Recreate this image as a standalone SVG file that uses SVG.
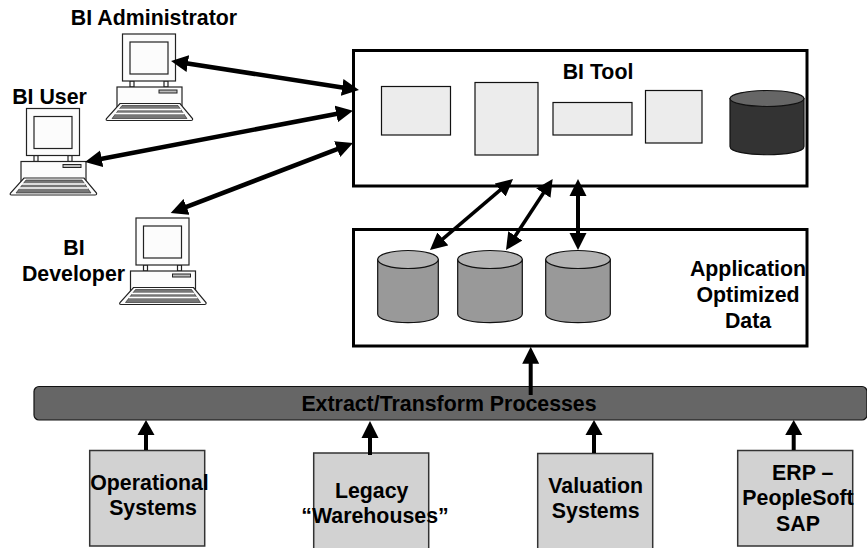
<svg xmlns="http://www.w3.org/2000/svg" width="867" height="548" viewBox="0 0 867 548">
<style>
text{font-family:"Liberation Sans",Arial,sans-serif;font-weight:700;font-size:21.33px;fill:#000;text-anchor:middle}
.frame{fill:#fff;stroke:#000;stroke-width:3}
.light{fill:#ececec;stroke:#111;stroke-width:1.2}
.src{fill:#d2d2d2;stroke:#333;stroke-width:1.5}
.cyl{fill:#999;stroke:#111;stroke-width:1.2}
.cylt{fill:#b3b3b3;stroke:#111;stroke-width:1.2}
.dark{fill:#333;stroke:#111;stroke-width:1.2}
.darkt{fill:#666;stroke:#111;stroke-width:1.2}
.pc{fill:#fcfcfc;stroke:#222;stroke-width:1.2}
.ln{fill:none;stroke:#000;stroke-width:4.5}
.ln2{fill:none;stroke:#000;stroke-width:3.5}
.ln3{fill:none;stroke:#000;stroke-width:4}
.up{fill:none;stroke:#000;stroke-width:4}
</style>
<defs>
<marker id="head" markerUnits="userSpaceOnUse" markerWidth="18" markerHeight="18" refX="5" refY="8.5" orient="auto-start-reverse" viewBox="0 0 18 17"><path d="M0 0L17 8.5L0 17z" fill="#000"/></marker>
<marker id="headS" markerUnits="userSpaceOnUse" markerWidth="18" markerHeight="18" refX="5" refY="8.5" orient="auto-start-reverse" viewBox="0 0 18 17"><path d="M0 0L15 8.5L0 17z" fill="#000"/></marker>
<g id="pc">
<rect class="pc" x="130" y="81" width="4" height="6"/>
<rect class="pc" x="164" y="81" width="4" height="6"/>
<rect class="pc" x="122.500" y="34" width="53" height="47"/>
<rect class="pc" x="130" y="42" width="38" height="32"/>
<rect class="pc" x="117" y="87" width="65" height="20"/>
<rect x="159" y="90" width="18" height="3" fill="#bbb" stroke="#222" stroke-width="1"/>
<path class="pc" d="M120 103.500H180L192.500 118.500Q193 120.500 191 120.500H107.500Q105.500 120.500 106.500 118.500Z" stroke-width="1.400"/>
<path d="M122 105.500H178L187 118.500H112Z" fill="#777" stroke="#222" stroke-width=".6"/>
<path d="M118 109.500H181M115 113.500H184" stroke="#fff" stroke-width="1.300"/>
</g>
</defs>
<g id="bi-tool">
<rect class="frame" x="353.500" y="50.500" width="453.500" height="135.500"/>
<text x="598" y="79">BI Tool</text>
<rect class="light" x="381.500" y="86.500" width="69" height="48.500"/>
<rect class="light" x="475" y="82.500" width="63" height="72.500"/>
<rect class="light" x="553" y="102.500" width="79" height="32.500"/>
<rect class="light" x="645.500" y="90.500" width="56.500" height="52.500"/>
<path class="dark" d="M730 98.500V146.500C730 157.500 804 157.500 804 146.500V98.500Z"/>
<ellipse class="darkt" cx="767" cy="98.500" rx="37" ry="8"/>
</g>
<g id="app-data">
<rect class="frame" x="353.500" y="229.500" width="453.500" height="116.500"/>
<path class="cyl" d="M377.700 259.500V314C377.700 325.500 438.300 325.500 438.300 314V259.500Z"/>
<ellipse class="cylt" cx="408" cy="259.500" rx="30.300" ry="9"/>
<path class="cyl" d="M457.700 259.500V314C457.700 325.500 522.300 325.500 522.300 314V259.500Z"/>
<ellipse class="cylt" cx="490" cy="259.500" rx="32.300" ry="9"/>
<path class="cyl" d="M545.700 259.500V314C545.700 325.500 610.300 325.500 610.300 314V259.500Z"/>
<ellipse class="cylt" cx="578" cy="259.500" rx="32.300" ry="9"/>
<text x="748" y="276">Application</text>
<text x="748" y="302">Optimized</text>
<text x="748" y="328">Data</text>
</g>
<g id="etl">
<rect x="34" y="386.500" width="833" height="33.500" rx="5" fill="#666" stroke="#111" stroke-width="1.200"/>
</g>
<g id="operational">
<rect class="src" x="89.700" y="450.500" width="115" height="95.500"/>
<text x="149.500" y="490">Operational</text>
<text x="153" y="515">Systems</text>
</g>
<g id="legacy">
<rect class="src" x="313.700" y="453" width="115" height="100"/>
<text x="371.700" y="498">Legacy</text>
<text x="375" y="523">“Warehouses”</text>
</g>
<g id="valuation">
<rect class="src" x="537.700" y="453.500" width="115" height="100"/>
<text x="595.700" y="493">Valuation</text>
<text x="595.700" y="518">Systems</text>
</g>
<g id="erp">
<rect class="src" x="737.700" y="450.500" width="115" height="95.500"/>
<text x="802.700" y="480">ERP –</text>
<text x="798" y="505">PeopleSoft</text>
<text x="798" y="530.500">SAP</text>
</g>
<g id="bi-administrator">
<use href="#pc"/>
<text x="154" y="25">BI Administrator</text>
</g>
<g id="bi-user">
<use href="#pc" x="-96" y="74.500"/>
<text x="49.500" y="104">BI User</text>
</g>
<g id="bi-developer">
<use href="#pc" x="13.500" y="184"/>
<text x="74" y="255">BI</text>
<text x="73.500" y="280.500">Developer</text>
</g>
<g id="connectors">
<path class="ln" d="M182.900 62.800L347.100 88.200" marker-start="url(#head)" marker-end="url(#head)"/>
<path class="ln" d="M96.800 159.700L341.200 113" marker-start="url(#head)" marker-end="url(#head)"/>
<path class="ln" d="M341.800 147.300L181.900 208.700" marker-start="url(#head)" marker-end="url(#head)"/>
<path class="ln2" d="M503.900 186.800L439.100 242.200" marker-start="url(#head)" marker-end="url(#head)"/>
<path class="ln2" d="M546.100 189L512.600 240" marker-start="url(#head)" marker-end="url(#head)"/>
<path class="ln3" d="M578 191V238" marker-start="url(#head)" marker-end="url(#head)"/>
<path class="up" d="M530.700 395V358.700" marker-end="url(#head)"/>
<path class="up" d="M146 450V430" marker-end="url(#headS)"/>
<path class="up" d="M370 455V433" marker-end="url(#head)"/>
<path class="up" d="M594 453V430" marker-end="url(#headS)"/>
<path class="up" d="M793.700 450V430" marker-end="url(#headS)"/>
</g>
<g id="etl-label"><text x="449" y="411">Extract/Transform Processes</text></g>
</svg>
